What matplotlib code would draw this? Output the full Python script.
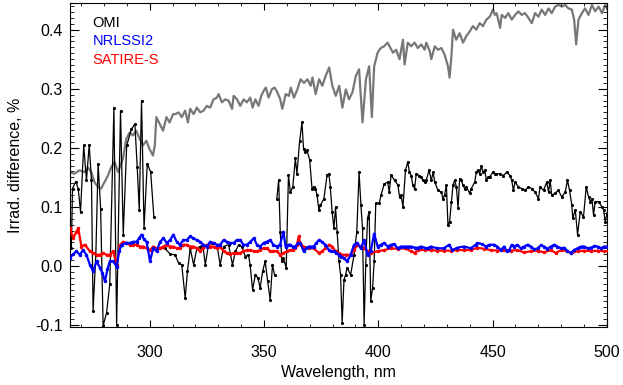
import numpy as np
import matplotlib
matplotlib.use("Agg")
import matplotlib.pyplot as plt
from matplotlib.ticker import MultipleLocator, FormatStrFormatter

plt.rcParams['font.family'] = ['Liberation Sans', 'DejaVu Sans']

# gray reference curve
gray_wl = [265.1, 267.0, 269.2, 271.4, 272.9, 274.4, 275.8, 277.3, 278.7, 280.2, 281.7, 283.1,
           284.6, 286.1, 288.3, 289.7, 291.2, 292.6, 294.1, 295.6, 297.0, 298.5, 299.9, 301.4,
           302.2, 302.9, 304.4, 305.8, 307.3, 308.7, 310.2, 311.1, 312.6, 314.0, 315.5, 316.7,
           317.7, 319.2, 320.6, 322.1, 323.5, 325.0, 326.4, 327.9, 329.4, 330.1, 331.6, 333.0,
           334.5, 336.0, 336.7, 338.2, 339.6, 341.1, 342.5, 344.0, 345.0, 346.2, 347.6, 348.8,
           349.8, 350.8, 352.0, 353.4, 354.6, 355.6, 357.1, 358.0, 359.5, 360.9, 361.7, 363.1,
           364.6, 366.0, 367.5, 369.0, 370.4, 371.2, 372.6, 374.1, 375.5, 377.0, 378.5, 379.9,
           381.4, 382.9, 384.3, 385.8, 387.2, 388.7, 390.2, 391.6, 393.1, 394.6, 396.0, 397.2,
           398.2, 399.7, 401.1, 402.6, 404.1, 404.9, 406.4, 407.8, 409.3, 410.8, 411.5, 412.9,
           414.4, 415.9, 417.3, 418.8, 420.3, 421.0, 422.5, 423.2, 424.7, 426.1, 427.6, 429.0,
           430.5, 431.2, 432.0, 432.7, 434.1, 435.6, 437.1, 438.5, 440.0, 441.4, 442.9, 444.4,
           445.8, 447.3, 448.8, 450.2, 451.0, 451.8, 453.3, 454.0, 455.5, 456.9, 458.4, 459.9,
           461.3, 462.8, 464.2, 465.7, 467.2, 468.6, 470.1, 471.5, 473.0, 474.5, 475.9, 477.4,
           478.8, 480.3, 481.8, 483.2, 484.7, 485.7, 486.6, 487.6, 489.1, 490.5, 492.0, 493.5,
           494.9, 496.4, 497.9, 499.3, 500.3]
gray_val = [0.159, 0.156, 0.162, 0.159, 0.167, 0.159, 0.142, 0.134, 0.131, 0.142, 0.153, 0.167,
            0.176, 0.159, 0.182, 0.215, 0.226, 0.221, 0.229, 0.215, 0.204, 0.212, 0.198, 0.187,
            0.204, 0.252, 0.240, 0.229, 0.252, 0.243, 0.257, 0.257, 0.260, 0.252, 0.263, 0.243,
            0.266, 0.257, 0.268, 0.260, 0.263, 0.271, 0.268, 0.282, 0.285, 0.291, 0.277, 0.282,
            0.280, 0.266, 0.288, 0.282, 0.271, 0.282, 0.277, 0.285, 0.268, 0.282, 0.271, 0.288,
            0.296, 0.302, 0.285, 0.299, 0.302, 0.296, 0.282, 0.266, 0.291, 0.288, 0.302, 0.285,
            0.299, 0.316, 0.310, 0.316, 0.305, 0.319, 0.291, 0.316, 0.305, 0.322, 0.336, 0.305,
            0.288, 0.305, 0.268, 0.299, 0.282, 0.294, 0.322, 0.333, 0.243, 0.316, 0.338, 0.252,
            0.338, 0.361, 0.369, 0.372, 0.378, 0.372, 0.361, 0.366, 0.350, 0.383, 0.341, 0.378,
            0.372, 0.378, 0.369, 0.375, 0.366, 0.378, 0.364, 0.350, 0.372, 0.366, 0.369, 0.358,
            0.338, 0.319, 0.355, 0.400, 0.383, 0.394, 0.378, 0.389, 0.397, 0.406, 0.400, 0.411,
            0.406, 0.417, 0.422, 0.434, 0.425, 0.428, 0.403, 0.425, 0.420, 0.428, 0.417, 0.425,
            0.431, 0.425, 0.428, 0.420, 0.411, 0.428, 0.422, 0.434, 0.425, 0.436, 0.428, 0.439,
            0.442, 0.439, 0.442, 0.436, 0.434, 0.417, 0.375, 0.417, 0.428, 0.436, 0.425, 0.442,
            0.431, 0.439, 0.428, 0.442, 0.434]

# OMI, three channels
omi1_wl = [265.7, 266.2, 267.6, 268.7, 269.7, 271.1, 272.3, 273.5, 274.5, 275.2, 276.4, 277.4,
           278.5, 279.6, 281.1, 282.5, 284.3, 285.5, 287.2, 288.4, 289.9, 292.0, 293.5, 294.5,
           295.4, 296.4, 297.5, 298.9, 300.4, 301.8]
omi1_val = [0.030, 0.131, 0.143, 0.131, 0.092, 0.204, 0.145, 0.205, 0.145, -0.076, 0.019, 0.173,
            0.097, -0.101, -0.079, -0.031, 0.268, -0.099, 0.263, 0.053, 0.204, 0.232, 0.240, 0.168,
            0.095, 0.280, 0.064, 0.173, 0.159, 0.083]

omi2_wl = [304.0, 306.5, 309.0, 311.1, 312.6, 314.0, 315.5, 316.5, 317.7, 319.2, 320.6, 322.1,
           323.2, 324.3, 325.7, 327.2, 329.4, 330.8, 332.3, 334.5, 336.2, 337.5, 338.9, 340.3,
           341.8, 343.2, 343.9, 345.0, 346.2, 347.3, 348.3, 349.4, 350.5, 351.6, 352.7, 353.7,
           354.6]
omi2_val = [0.030, 0.030, 0.020, 0.019, 0.005, 0.002, -0.054, -0.009, 0.030, 0.002, 0.030, 0.033,
            0.036, 0.002, 0.036, 0.039, 0.036, 0.002, 0.033, 0.036, 0.002, 0.025, 0.036, 0.033,
            0.016, 0.019, 0.002, -0.040, -0.015, -0.020, -0.037, -0.009, 0.008, -0.026, -0.057, 0.002,
            -0.015]

omi3_wl = [355.6, 356.4, 357.1, 357.8, 358.5, 359.7, 360.7, 361.5, 362.6, 363.7, 364.4, 365.6,
           366.6, 367.3, 368.0, 368.8, 370.0, 371.0, 371.7, 372.5, 373.2, 374.0, 374.7, 376.2,
           377.6, 378.4, 379.0, 379.8, 380.6, 381.3, 382.0, 382.8, 383.5, 384.2, 385.0, 385.7,
           386.4, 387.9, 389.4, 390.6, 391.6, 392.4, 393.1, 393.8, 394.5, 395.3, 396.0, 396.7,
           397.5, 398.2, 398.9, 400.4, 401.2, 402.6, 404.1, 404.8, 405.6, 407.1, 408.6, 409.3,
           410.0, 410.8, 411.9, 412.9, 413.6, 414.4, 415.1, 415.9, 416.6, 418.0, 418.8, 419.5,
           420.3, 421.0, 422.2, 423.2, 424.0, 424.7, 426.1, 427.6, 428.3, 429.0, 429.8, 430.5,
           431.2, 432.0, 432.7, 433.4, 434.2, 434.9, 435.6, 436.3, 437.1, 437.8, 438.5, 440.0,
           440.7, 442.2, 442.9, 443.6, 444.4, 445.1, 445.8, 446.6, 447.3, 448.1, 448.8, 450.2,
           451.0, 451.7, 453.3, 454.7, 456.2, 457.7, 458.4, 459.1, 459.9, 461.3, 462.8, 464.2,
           465.7, 467.2, 468.6, 470.1, 470.8, 472.3, 473.7, 474.5, 475.2, 475.9, 477.4, 478.8,
           480.3, 481.8, 482.8, 483.7, 484.7, 485.1, 486.2, 487.2, 488.4, 489.8, 491.0, 492.0,
           492.8, 493.5, 494.2, 494.9, 496.4, 497.9, 498.6, 499.3, 500.1]
omi3_val = [0.114, 0.145, 0.058, 0.008, 0.013, -0.003, 0.154, 0.125, 0.134, 0.182, 0.156, 0.212,
            0.243, 0.198, 0.193, 0.196, 0.179, 0.131, 0.134, 0.131, 0.120, 0.095, 0.103, 0.114,
            0.154, 0.156, 0.134, 0.092, 0.064, 0.100, 0.058, 0.008, -0.015, -0.096, -0.023, -0.015,
            -0.003, -0.015, 0.019, 0.058, 0.159, 0.103, 0.064, -0.099, 0.002, 0.081, 0.092, -0.059,
            -0.037, 0.008, 0.106, 0.106, 0.120, 0.139, 0.142, 0.125, 0.154, 0.145, 0.137, 0.117,
            0.120, 0.100, 0.162, 0.176, 0.159, 0.153, 0.137, 0.131, 0.156, 0.153, 0.151, 0.145,
            0.143, 0.145, 0.162, 0.145, 0.159, 0.142, 0.128, 0.125, 0.114, 0.120, 0.137, 0.069,
            0.075, 0.109, 0.137, 0.145, 0.134, 0.098, 0.148, 0.145, 0.137, 0.131, 0.134, 0.123,
            0.131, 0.142, 0.159, 0.162, 0.156, 0.170, 0.159, 0.162, 0.145, 0.150, 0.151, 0.159,
            0.156, 0.156, 0.156, 0.153, 0.159, 0.153, 0.145, 0.128, 0.142, 0.134, 0.131, 0.128,
            0.134, 0.131, 0.125, 0.114, 0.134, 0.128, 0.142, 0.125, 0.145, 0.120, 0.123, 0.128,
            0.117, 0.125, 0.145, 0.128, 0.103, 0.081, 0.095, 0.053, 0.092, 0.083, 0.134, 0.117,
            0.109, 0.114, 0.086, 0.109, 0.109, 0.100, 0.095, 0.075, 0.089]

# NRLSSI2
nrl_wl = [265.0, 266.5, 267.9, 269.4, 270.8, 272.3, 273.8, 275.2, 276.7, 278.2, 279.3, 280.4,
          281.5, 282.5, 284.0, 285.5, 286.6, 287.7, 289.5, 291.3, 292.8, 294.3, 295.3, 296.4,
          297.5, 298.6, 300.1, 301.5, 303.0, 304.5, 306.0, 307.4, 308.9, 310.3, 311.8, 313.2,
          314.7, 316.2, 317.6, 319.1, 320.6, 322.0, 323.5, 325.0, 326.4, 327.9, 329.4, 330.8,
          332.3, 333.7, 335.2, 336.7, 338.1, 339.6, 341.0, 342.5, 344.0, 345.5, 346.9, 348.4,
          349.8, 351.2, 352.7, 354.1, 355.6, 357.0, 358.5, 359.4, 360.5, 361.5, 362.6, 363.7,
          364.8, 365.9, 367.3, 368.4, 369.5, 370.6, 371.7, 372.9, 374.0, 375.4, 376.9, 378.4,
          379.5, 380.6, 381.7, 382.8, 383.9, 385.0, 386.4, 387.9, 389.4, 390.8, 392.3, 393.8,
          395.3, 396.7, 398.2, 399.7, 401.2, 402.6, 404.1, 405.6, 407.0, 408.5, 410.0, 411.5,
          413.0, 414.4, 416.0, 417.3, 418.8, 420.3, 421.7, 422.9, 425.8, 428.7, 431.0, 432.4,
          434.6, 437.5, 440.5, 442.6, 443.4, 445.6, 447.0, 448.5, 450.7, 452.1, 453.6, 455.1,
          456.2, 457.3, 458.4, 459.4, 460.9, 462.3, 463.8, 465.3, 466.8, 468.2, 469.7, 471.1,
          472.6, 474.0, 475.5, 477.0, 478.4, 479.9, 481.4, 482.8, 484.3, 485.7, 487.2, 488.7,
          490.2, 491.6, 493.1, 494.6, 496.0, 497.5, 498.9, 500.4]
nrl_val = [0.013, 0.020, 0.025, 0.019, 0.027, 0.019, 0.002, -0.009, 0.008, -0.003, -0.012, -0.026,
           -0.005, 0.008, 0.008, -0.001, 0.025, 0.036, 0.039, 0.039, 0.041, 0.041, 0.047, 0.053,
           0.045, 0.041, 0.008, 0.030, 0.025, 0.041, 0.047, 0.039, 0.044, 0.053, 0.041, 0.036,
           0.044, 0.044, 0.050, 0.047, 0.044, 0.041, 0.036, 0.033, 0.041, 0.039, 0.036, 0.036,
           0.044, 0.041, 0.039, 0.039, 0.044, 0.044, 0.036, 0.036, 0.041, 0.047, 0.036, 0.033,
           0.039, 0.041, 0.044, 0.036, 0.033, 0.036, 0.058, 0.033, 0.036, 0.036, 0.033, 0.033,
           0.039, 0.039, 0.025, 0.030, 0.033, 0.033, 0.033, 0.039, 0.044, 0.041, 0.036, 0.027,
           0.025, 0.025, 0.022, 0.019, 0.016, 0.013, 0.008, 0.019, 0.036, 0.039, 0.030, 0.044,
           0.019, 0.025, 0.055, 0.033, 0.036, 0.039, 0.033, 0.036, 0.037, 0.030, 0.033, 0.033,
           0.033, 0.033, 0.031, 0.031, 0.033, 0.031, 0.030, 0.033, 0.030, 0.030, 0.036, 0.027,
           0.031, 0.033, 0.030, 0.036, 0.039, 0.037, 0.033, 0.036, 0.036, 0.033, 0.027, 0.033,
           0.025, 0.027, 0.036, 0.033, 0.036, 0.030, 0.033, 0.036, 0.033, 0.028, 0.030, 0.035,
           0.033, 0.029, 0.033, 0.036, 0.033, 0.030, 0.031, 0.025, 0.022, 0.027, 0.030, 0.033,
           0.033, 0.030, 0.031, 0.034, 0.033, 0.030, 0.033, 0.033]

# SATIRE-S
sat_wl = [265.0, 266.5, 267.9, 268.7, 270.1, 271.6, 273.8, 275.2, 276.7, 278.2, 279.6, 281.1,
          282.5, 284.0, 285.5, 287.0, 288.4, 289.9, 291.3, 292.8, 294.3, 295.7, 297.2, 298.6,
          300.1, 301.5, 303.0, 304.5, 306.0, 307.4, 308.9, 310.3, 311.8, 313.2, 314.7, 316.2,
          317.6, 319.1, 320.6, 322.0, 323.5, 325.0, 326.4, 327.9, 329.4, 330.8, 332.3, 333.7,
          335.2, 336.7, 338.1, 339.6, 341.0, 342.5, 344.0, 345.5, 346.9, 348.4, 349.8, 351.2,
          352.7, 354.1, 355.6, 357.1, 358.5, 360.0, 361.5, 362.6, 363.7, 364.4, 365.2, 366.0,
          367.3, 369.5, 371.7, 374.0, 375.4, 376.9, 378.4, 379.8, 381.3, 382.8, 384.2, 385.7,
          387.9, 389.4, 390.8, 392.3, 393.8, 395.3, 396.7, 399.7, 402.6, 405.6, 408.5, 411.5,
          414.4, 415.9, 417.3, 420.3, 422.9, 425.8, 428.7, 431.7, 434.6, 437.5, 440.5, 443.4,
          446.3, 449.2, 452.1, 455.1, 458.0, 460.9, 463.8, 466.8, 469.7, 472.6, 475.5, 477.7,
          479.9, 482.8, 484.3, 487.2, 490.2, 493.1, 496.0, 498.9, 500.4]
sat_val = [0.064, 0.047, 0.058, 0.064, 0.033, 0.036, 0.025, 0.022, 0.019, 0.019, 0.022, 0.019,
           0.019, 0.025, 0.002, 0.036, 0.041, 0.039, 0.036, 0.036, 0.036, 0.033, 0.033, 0.030,
           0.027, 0.033, 0.030, 0.030, 0.033, 0.036, 0.033, 0.033, 0.030, 0.030, 0.036, 0.036,
           0.033, 0.033, 0.030, 0.025, 0.030, 0.036, 0.033, 0.033, 0.030, 0.033, 0.025, 0.022,
           0.020, 0.022, 0.022, 0.022, 0.025, 0.027, 0.027, 0.025, 0.025, 0.027, 0.030, 0.030,
           0.025, 0.025, 0.025, 0.019, 0.022, 0.025, 0.027, 0.027, 0.030, 0.036, 0.050, 0.036,
           0.033, 0.030, 0.030, 0.022, 0.025, 0.030, 0.036, 0.033, 0.025, 0.022, 0.019, 0.019,
           0.019, 0.027, 0.036, 0.033, 0.030, 0.025, 0.022, 0.025, 0.027, 0.030, 0.029, 0.030,
           0.025, 0.022, 0.027, 0.027, 0.027, 0.026, 0.026, 0.026, 0.027, 0.027, 0.027, 0.031,
           0.029, 0.027, 0.026, 0.027, 0.026, 0.027, 0.023, 0.025, 0.026, 0.023, 0.027, 0.022,
           0.027, 0.025, 0.022, 0.025, 0.026, 0.025, 0.026, 0.025, 0.025]

fig = plt.figure(figsize=(6.23, 3.85), dpi=100)
ax = fig.add_axes([0.112, 0.151, 0.862, 0.841])

ax.plot(gray_wl, gray_val, color="#777777", linewidth=1.6, zorder=1)
for wl, val in [(omi1_wl, omi1_val), (omi2_wl, omi2_val), (omi3_wl, omi3_val)]:
    ax.plot(wl, val, color="black", linewidth=0.9, marker=".", markersize=2.5, zorder=2)
ax.plot(sat_wl, sat_val, color="red", linewidth=1.6, marker=".", markersize=3, zorder=3)
ax.plot(nrl_wl, nrl_val, color="blue", linewidth=1.6, marker=".", markersize=3, zorder=4)

ax.set_xlim(265, 500)
ax.set_ylim(-0.103, 0.445)
ax.xaxis.set_major_locator(MultipleLocator(50))
ax.xaxis.set_minor_locator(MultipleLocator(10))
ax.yaxis.set_major_locator(MultipleLocator(0.1))
ax.yaxis.set_minor_locator(MultipleLocator(0.01))
ax.yaxis.set_major_formatter(FormatStrFormatter("%.1f"))
ax.tick_params(axis="both", which="both", direction="in", top=True, right=True, labelsize=11.5)
ax.tick_params(axis="x", which="major", length=5, pad=13)
ax.tick_params(axis="x", which="minor", length=2.5)
ax.tick_params(axis="y", which="major", length=6.5, pad=5)
ax.tick_params(axis="y", which="minor", length=3.2)

ax.set_xlabel("Wavelength, nm", fontsize=11.5, labelpad=4)
ax.set_ylabel("Irrad. difference, %", fontsize=11.5, labelpad=9)

ax.text(0.042, 0.938, "OMI", color="black", fontsize=10.5, transform=ax.transAxes, va="center")
ax.text(0.042, 0.883, "NRLSSI2", color="blue", fontsize=10.5, transform=ax.transAxes, va="center")
ax.text(0.042, 0.825, "SATIRE-S", color="red", fontsize=10.5, transform=ax.transAxes, va="center")

fig.savefig("out.png", dpi=100)
